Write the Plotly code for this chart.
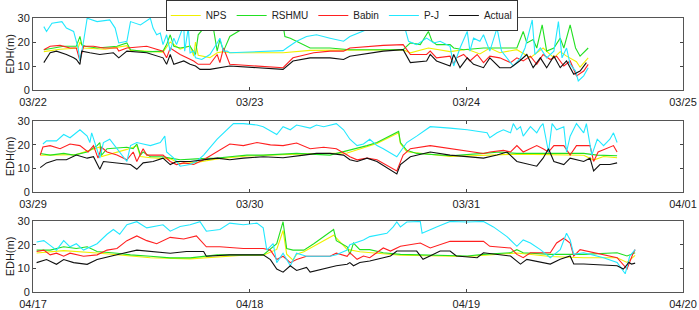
import plotly.graph_objects as go
from plotly.subplots import make_subplots

# ---- tick labels per panel (x in hours from first day 00:00) ----
TICK_HOURS = [0, 24, 48, 72]
P1_TICKS = ["03/22", "03/23", "03/24", "03/25"]
P2_TICKS = ["03/29", "03/30", "03/31", "04/01"]
P3_TICKS = ["04/17", "04/18", "04/19", "04/20"]
Y_TICKS = [0, 10, 20, 30]

SERIES = ["NPS", "RSHMU", "Babin", "P-J", "Actual"]
COLORS = {"NPS": "#f0f000", "RSHMU": "#22e022", "Babin": "#ff2020",
          "P-J": "#22e8ff", "Actual": "#111111"}

# ---- Panel 1 (03/22 - 03/25): (hour, EDH m) ----
P1_NPS = [(1.2,16.0),(3.0,17.0),(5.0,17.5),(5.2,20.0),(5.6,17.5),(8.0,17.0),(10.4,18.5),(10.8,16.5),
          (14.4,15.8),(15.2,20.0),(16.3,17.0),(17.4,18.5),(17.8,14.1),(18.0,20.0),(18.3,14.5),(19.6,13.5),
          (20.4,15.5),(21.1,16.0),(21.8,15.5),(27.7,15.5),(30.7,16.5),(34.4,16.5),(41.0,16.8),(41.8,15.5),
          (43.8,17.5),(46.2,16.0),(48.1,17.0),(49.5,15.0),(50.6,17.5),(51.7,15.5),(53.6,16.8),(55.1,13.5),
          (56.5,17.5),(57.7,13.4),(58.4,16.0),(59.1,14.1),(60.2,11.8),(60.6,9.5),(61.5,13.4)]
P1_RSHMU = [(1.2,16.8),(2.3,17.5),(3.4,18.2),(4.8,18.2),(5.2,22.3),(5.4,18.9),(5.8,18.2),(7.1,17.5),
            (9.3,18.2),(10.4,19.6),(10.8,16.8),(12.6,15.9),(14.4,16.2),(14.8,18.9),(15.2,23.0),(15.6,18.2),
            (16.3,17.5),(17.4,18.2),(18.0,14.8),(18.3,23.0),(19.8,29.9),(20.4,16.2),(20.7,21.0),(21.1,16.2),
            (21.8,22.3),(25.2,29.9),(27.7,27.1),(27.9,22.3),(28.5,21.6),(30.7,17.5),(32.9,17.5),(35.1,16.8),
            (41.0,16.8),(41.8,19.6),(42.9,18.9),(43.8,24.4),(44.2,20.3),(44.7,18.9),(46.2,18.9),(46.6,17.5),
            (47.7,16.8),(49.9,17.5),(51.7,17.5),(53.6,17.5),(54.3,24.4),(54.7,19.6),(55.4,21.0),(55.8,17.5),
            (56.4,27.1),(56.9,16.2),(57.7,17.5),(58.4,21.6),(58.8,17.5),(59.5,27.1),(60.1,17.5),(60.6,14.1),
            (61.5,17.5)]
P1_BABIN = [(1.2,16.8),(1.9,18.2),(3.0,18.6),(4.1,17.5),(4.8,17.5),(5.2,12.1),(5.6,18.2),(6.7,18.2),
            (7.8,17.5),(9.3,17.5),(9.5,16.2),(10.4,17.5),(12.6,18.2),(14.4,16.2),(14.8,13.4),(15.2,17.5),
            (16.3,14.8),(17.0,13.4),(17.8,12.1),(18.3,10.7),(19.6,10.7),(20.4,14.8),(20.7,11.4),(21.1,17.5),
            (21.8,10.7),(27.7,9.3),(28.8,13.4),(31.1,15.5),(32.9,16.2),(34.4,16.2),(35.1,17.5),(38.8,18.6),
            (41.0,18.9),(41.8,14.8),(43.6,14.8),(44.0,16.2),(44.7,13.4),(46.2,14.1),(46.6,10.7),(46.9,13.4),
            (47.7,14.8),(48.4,12.1),(49.2,14.8),(49.9,11.4),(50.6,14.1),(51.7,13.4),(52.9,11.4),(53.6,13.4),
            (54.3,12.1),(55.1,14.1),(55.8,10.7),(56.5,14.8),(57.3,12.7),(58.0,14.1),(58.8,10.0),(59.5,12.1),
            (60.2,5.9),(61.0,7.9),(61.5,10.7)]
P1_PJ = [(1.2,26.4),(1.5,24.4),(2.1,27.8),(3.2,28.5),(3.7,25.8),(4.5,24.4),(5.0,17.5),(5.2,12.1),
         (5.6,20.3),(6.0,29.9),(7.1,28.5),(8.5,29.2),(9.1,25.8),(9.5,19.6),(10.4,20.3),(10.8,28.5),
         (11.9,27.1),(13.0,29.9),(13.3,25.8),(13.7,23.0),(14.1,23.7),(14.4,18.9),(14.8,23.0),(15.2,16.2),
         (15.6,21.6),(15.9,18.9),(16.7,27.1),(16.8,16.2),(17.2,25.8),(17.4,15.5),(17.8,16.2),(18.0,13.4),
         (18.7,12.7),(19.6,14.8),(20.4,19.6),(20.7,21.6),(21.1,16.2),(21.5,16.2),(21.8,15.5),(27.7,16.4),
         (28.1,17.5),(29.2,20.3),(30.3,22.3),(31.4,23.0),(32.9,21.6),(34.4,20.3),(35.1,22.3),(39.6,29.2),
         (41.0,28.5),(41.6,20.3),(42.5,18.9),(43.6,21.6),(44.4,19.6),(45.1,20.3),(46.2,18.2),(46.6,10.0),
         (47.3,17.5),(48.1,24.4),(48.4,16.2),(48.8,21.6),(49.5,20.3),(49.9,23.0),(50.6,16.2),(51.4,25.8),
         (51.9,16.2),(52.5,13.4),(53.2,10.0),(54.0,13.4),(54.5,17.5),(55.3,29.2),(55.6,14.8),(56.2,17.5),
         (56.9,13.4),(57.7,16.2),(58.2,28.5),(58.6,13.4),(59.1,17.5),(59.5,10.7),(60.1,7.9),(60.4,3.8),
         (61.0,5.9),(61.5,9.3)]
P1_ACTUAL = [(1.2,11.4),(1.9,15.5),(2.6,16.2),(3.7,14.8),(4.5,13.4),(4.8,12.7),(5.2,10.7),(5.4,16.2),
             (6.3,15.5),(7.4,14.8),(8.9,15.5),(9.5,13.4),(10.4,16.2),(12.6,15.5),(14.4,13.4),(14.8,10.7),
             (15.2,14.8),(15.6,10.7),(16.7,12.1),(17.4,10.7),(18.0,10.0),(18.5,8.6),(19.6,8.6),(20.7,9.3),
             (21.8,10.0),(27.7,8.6),(28.8,12.1),(30.7,13.4),(32.9,13.4),(34.4,12.7),(35.1,14.1),(38.8,16.2),
             (41.0,16.8),(41.8,11.4),(43.6,12.1),(44.0,14.8),(44.7,12.1),(46.2,10.0),(46.6,14.8),(47.3,9.3),
             (48.1,13.4),(48.8,10.7),(49.9,9.3),(50.6,13.4),(51.7,9.3),(52.9,9.3),(53.9,12.1),(54.7,14.8),
             (55.4,9.3),(56.2,13.4),(56.9,9.3),(57.7,14.1),(58.4,9.3),(59.1,12.1),(59.9,6.6),(60.6,7.9),
             (61.3,11.4)]

# ---- Panel 2 (03/29 - 04/01) ----
P2_NPS = [(0.8,15.5),(4.8,15.8),(7.4,19.0),(7.6,15.0),(10.4,18.0),(11.5,19.5),(11.9,15.0),(13.0,14.5),
          (15.2,14.0),(16.3,12.0),(18.1,12.5),(20.4,14.0),(23.7,15.2),(29.2,16.0),(34.8,16.5),(38.1,20.5),
          (40.5,25.0),(40.7,20.5),(41.4,17.0),(46.2,15.0),(53.6,16.0),(57.3,15.8),(61.0,15.5),(62.1,13.5),
          (63.2,15.0),(64.7,14.5)]
P2_RSHMU = [(0.8,16.3),(1.9,15.6),(3.4,16.3),(4.5,15.6),(6.0,16.9),(7.1,19.6),(7.4,20.9),(7.6,15.6),
            (8.2,18.3),(9.3,18.7),(10.4,18.9),(11.1,18.3),(11.5,20.3),(11.9,15.6),(12.2,16.9),(13.0,14.9),
            (14.4,14.9),(15.2,14.3),(16.3,13.6),(18.1,14.0),(20.4,14.3),(21.8,14.9),(23.7,15.6),(25.5,15.6),
            (29.2,16.3),(32.9,15.6),(35.1,17.6),(37.0,19.6),(38.1,20.9),(40.5,25.6),(40.7,20.9),(41.4,17.6),
            (42.5,16.3),(46.2,15.3),(49.9,16.3),(51.7,16.9),(53.6,16.3),(57.3,16.3),(61.0,16.3),(62.5,15.6),
            (64.7,15.3)]
P2_BABIN = [(0.8,15.6),(1.1,19.0),(1.9,19.6),(3.0,18.3),(4.1,20.3),(5.2,19.6),(6.1,16.9),(6.7,19.6),
            (7.2,14.3),(7.6,18.9),(8.2,16.9),(9.3,15.6),(10.4,13.6),(11.1,16.9),(11.5,12.9),(12.2,18.3),
            (12.6,15.6),(14.4,15.6),(15.2,12.9),(15.9,11.6),(16.7,12.3),(17.8,11.6),(18.9,13.6),(20.4,16.9),
            (21.8,20.3),(23.3,19.6),(24.8,20.9),(26.3,19.9),(27.7,19.6),(29.2,20.7),(30.7,18.3),(32.2,18.9),
            (33.6,18.3),(34.8,15.6),(35.1,14.9),(35.9,13.6),(37.0,14.3),(38.1,13.6),(40.3,8.9),(41.0,15.6),
            (41.8,18.3),(44.0,19.6),(46.2,18.3),(49.9,16.3),(50.6,16.9),(52.1,17.6),(52.9,16.9),(53.6,19.6),
            (54.3,16.9),(55.8,19.6),(56.5,18.3),(57.1,16.9),(57.7,19.6),(58.8,19.6),(59.5,15.6),(60.2,19.6),
            (61.7,19.6),(62.1,12.9),(62.6,16.9),(63.6,18.3),(64.3,19.6),(64.7,16.9)]
P2_PJ = [(1.1,20.3),(1.5,21.6),(2.6,21.6),(3.4,24.3),(4.1,22.9),(5.2,26.3),(6.0,23.6),(6.3,20.9),
         (6.5,25.0),(7.1,18.3),(7.4,14.3),(7.8,20.9),(8.5,22.3),(9.3,18.3),(10.4,12.9),(10.8,19.6),
         (11.5,20.9),(12.2,20.3),(13.0,19.6),(14.1,20.9),(14.6,23.6),(14.8,16.9),(15.6,14.3),(16.3,10.9),
         (17.4,11.6),(18.1,12.9),(18.9,15.6),(20.4,22.3),(21.1,25.0),(21.8,27.6),(22.2,28.9),(23.3,28.9),
         (24.8,28.3),(25.5,27.6),(27.0,24.3),(27.7,27.6),(28.5,26.3),(29.2,28.3),(30.7,27.0),(31.4,28.3),
         (32.2,27.6),(33.6,28.9),(34.4,26.3),(35.1,22.3),(35.9,19.6),(36.6,20.3),(37.3,22.3),(38.1,19.6),
         (38.8,18.3),(40.3,14.9),(40.7,16.9),(41.4,20.9),(42.5,23.6),(44.0,27.6),(46.2,27.0),(48.1,26.3),
         (50.3,25.0),(50.6,22.9),(51.4,25.0),(52.1,26.3),(52.9,25.0),(53.2,28.9),(53.6,26.3),(54.0,27.6),
         (54.3,23.6),(55.1,27.6),(55.8,25.0),(56.2,27.6),(56.5,28.9),(57.1,16.9),(57.5,28.9),(58.0,26.3),
         (58.8,27.6),(59.1,16.9),(59.5,23.6),(60.2,28.9),(61.0,25.0),(61.3,28.9),(61.9,15.6),(62.5,22.3),
         (63.2,19.6),(63.9,22.3),(64.3,25.0),(64.7,20.9)]
P2_ACTUAL = [(0.8,10.3),(1.5,12.3),(2.6,13.6),(3.7,13.6),(4.8,15.6),(6.0,14.3),(6.7,14.9),(7.4,9.6),
             (7.8,12.9),(9.3,12.3),(10.8,11.6),(11.5,9.6),(12.2,12.3),(13.3,12.9),(14.4,14.3),(15.2,11.6),
             (15.9,12.9),(17.4,12.9),(18.9,13.6),(20.4,14.3),(21.8,13.6),(23.3,14.3),(25.5,14.9),(27.7,14.5),
             (30.0,15.6),(31.4,16.3),(32.9,16.3),(34.4,15.6),(35.1,13.6),(35.9,12.9),(37.0,14.3),(38.1,12.9),
             (40.3,7.6),(40.7,11.6),(41.8,14.9),(44.0,16.9),(46.2,15.6),(49.9,14.3),(51.4,15.6),(52.5,16.9),
             (53.6,12.9),(54.3,12.3),(55.1,11.6),(55.8,10.9),(56.5,14.3),(57.1,18.3),(57.7,12.9),(58.8,11.6),
             (59.5,14.3),(61.0,12.9),(61.7,14.3),(62.1,8.9),(62.8,11.6),(63.9,11.6),(64.7,12.3)]

# ---- Panel 3 (04/17 - 04/20) ----
P3_NPS = [(0.4,16.5),(3.4,17.5),(7.1,16.5),(13.0,14.5),(17.4,14.0),(23.3,15.5),(25.5,15.5),(27.0,18.0),
          (27.7,26.0),(28.1,16.0),(28.8,13.5),(29.2,16.0),(30.0,17.0),(33.3,24.0),(34.8,18.0),(36.2,17.0),
          (40.7,15.5),(48.1,15.0),(53.6,16.5),(57.3,15.0),(61.0,14.5),(64.7,14.5),(65.8,12.5),(66.7,15.5)]
P3_RSHMU = [(0.4,17.7),(1.9,17.7),(3.4,19.1),(4.8,18.4),(6.0,19.1),(7.1,17.1),(9.3,16.4),(10.8,15.7),
            (13.0,15.1),(15.2,14.4),(17.4,14.4),(18.9,15.1),(20.4,15.7),(23.3,15.7),(25.5,15.7),(27.0,20.4),
            (27.7,29.7),(28.1,18.4),(28.8,17.7),(30.0,17.7),(31.1,20.4),(33.3,26.4),(33.6,21.7),(34.8,19.1),
            (35.1,15.9),(35.5,20.7),(36.2,17.9),(37.3,17.9),(38.8,16.6),(40.7,15.9),(44.4,15.5),(48.1,15.2),
            (49.9,15.9),(52.9,16.6),(53.6,17.9),(54.3,16.6),(57.3,15.9),(59.5,15.9),(61.0,15.9),(64.7,16.6),
            (65.8,15.2),(66.7,16.6)]
P3_BABIN = [(0.4,17.1),(1.2,17.7),(1.9,15.7),(2.6,16.4),(3.4,15.1),(4.1,16.4),(5.6,15.1),(7.1,15.7),
            (8.2,17.7),(9.3,18.4),(10.4,21.7),(11.5,23.7),(12.6,21.7),(13.7,20.4),(15.2,23.1),(16.7,22.4),
            (18.1,23.7),(19.2,19.1),(20.7,19.1),(23.3,18.4),(25.5,18.4),(26.3,17.7),(27.0,13.7),(27.7,15.1),
            (28.5,12.4),(29.2,13.7),(30.3,15.1),(32.9,15.1),(33.6,16.4),(34.8,15.1),(35.1,16.6),(35.9,13.8),
            (36.6,15.2),(37.3,14.5),(38.8,18.6),(39.6,17.3),(40.7,19.3),(42.9,20.7),(44.0,18.6),(46.2,21.4),
            (49.9,21.4),(50.6,19.3),(52.9,18.6),(53.6,15.9),(54.3,14.5),(55.1,16.6),(57.3,16.6),(58.0,20.7),
            (58.8,22.7),(59.5,20.7),(59.9,15.2),(60.6,17.9),(64.7,14.5),(65.8,9.7),(66.5,16.6),(66.7,17.9)]
P3_PJ = [(0.4,21.1),(1.2,21.7),(1.9,19.7),(2.6,17.7),(3.4,21.7),(4.1,19.1),(4.8,20.4),(5.6,17.7),
         (7.1,20.4),(8.2,24.4),(8.9,26.4),(9.6,24.4),(10.4,28.4),(11.5,29.7),(12.6,27.1),(14.4,28.4),
         (15.2,25.7),(16.3,27.7),(17.4,28.4),(18.5,29.7),(19.2,25.7),(20.7,26.4),(21.8,29.1),(23.3,28.4),
         (24.8,29.1),(25.5,27.1),(25.9,17.7),(26.6,20.4),(27.0,12.4),(27.7,16.4),(28.5,11.1),(29.2,16.4),
         (30.3,15.1),(32.9,15.1),(33.6,15.7),(34.8,17.7),(35.1,20.0),(36.6,22.0),(37.3,23.4),(39.2,24.8),
         (39.9,27.5),(40.3,29.6),(40.7,27.5),(41.4,29.6),(42.9,29.8),(43.1,24.8),(44.7,27.5),(46.2,29.8),
         (48.1,29.6),(49.9,29.8),(51.0,27.5),(52.5,23.4),(53.6,19.3),(54.3,22.0),(55.1,20.7),(56.2,17.9),
         (57.3,14.5),(58.4,17.9),(59.1,24.8),(59.5,22.0),(59.9,15.9),(61.0,16.6),(63.2,14.5),(64.7,12.5),
         (65.6,7.7),(66.1,15.2),(66.7,17.9)]
P3_ACTUAL = [(0.4,12.4),(1.5,13.7),(2.6,11.7),(3.4,13.7),(4.5,12.4),(6.0,11.7),(7.1,13.7),(8.5,15.1),
             (10.0,16.4),(11.5,17.7),(13.0,17.1),(15.2,16.4),(17.0,17.1),(18.9,17.1),(19.2,15.1),(21.8,15.7),
             (25.5,15.7),(26.3,13.7),(27.0,9.7),(27.7,8.4),(28.5,11.1),(29.2,9.1),(30.3,10.4),(30.7,8.4),
             (33.6,11.1),(34.8,11.7),(35.1,12.4),(35.5,11.1),(36.2,12.5),(37.3,13.1),(39.6,15.2),(40.3,17.3),
             (42.5,17.3),(43.2,13.8),(45.1,17.3),(46.2,17.3),(46.9,15.2),(49.2,14.5),(49.9,16.6),(52.9,15.2),
             (54.0,11.8),(54.7,13.8),(57.3,11.8),(58.4,13.8),(59.5,15.2),(59.9,11.8),(61.0,11.8),(64.7,11.1),
             (65.4,9.7),(66.0,12.5),(66.3,11.8),(66.7,12.2)]

PANELS = [
    (P1_TICKS, {"NPS": P1_NPS, "RSHMU": P1_RSHMU, "Babin": P1_BABIN, "P-J": P1_PJ, "Actual": P1_ACTUAL}),
    (P2_TICKS, {"NPS": P2_NPS, "RSHMU": P2_RSHMU, "Babin": P2_BABIN, "P-J": P2_PJ, "Actual": P2_ACTUAL}),
    (P3_TICKS, {"NPS": P3_NPS, "RSHMU": P3_RSHMU, "Babin": P3_BABIN, "P-J": P3_PJ, "Actual": P3_ACTUAL}),
]

W, H = 699, 310
ML, MR, MT, MB = 33, 16, 18, 18
ph = H - MT - MB
# panel frame tops/bottoms in pixels
FRAMES = [(18, 90), (121, 192), (221, 292)]

fig = make_subplots(rows=3, cols=1)
FONT = "Liberation Sans, Arial, sans-serif"

for i, (ticks, data) in enumerate(PANELS):
    r = i + 1
    for name in SERIES:
        pts = data[name]
        fig.add_trace(go.Scatter(
            x=[p[0] for p in pts], y=[p[1] for p in pts], mode="lines",
            name=name, showlegend=(i == 0), legendgroup=name,
            line=dict(color=COLORS[name], width=1.1)), row=r, col=1)
    top, bot = FRAMES[i]
    dom = [(H - MB - bot) / ph, (H - MB - top) / ph]
    ax = dict(range=[0, 72], tickvals=TICK_HOURS, ticktext=ticks, ticks="inside",
              ticklen=3, tickcolor="#444", showline=True, linecolor="#555", linewidth=1,
              mirror="ticks", showgrid=False, zeroline=False, automargin=False,
              ticklabelstandoff=2,
              tickfont=dict(family=FONT, size=11, color="#222"))
    ay = dict(range=[0, 30], tickvals=Y_TICKS, ticks="inside", ticklen=3, tickcolor="#444",
              showline=True, linecolor="#555", linewidth=1, mirror="ticks", showgrid=False,
              zeroline=False, domain=dom, automargin=False,
              tickfont=dict(family=FONT, size=11, color="#222"),
              title=dict(text="EDH(m)", font=dict(family=FONT, size=11, color="#222"), standoff=0))
    fig.update_xaxes(ax, row=r, col=1)
    fig.update_yaxes(ay, row=r, col=1)

fig.update_layout(
    width=W, height=H, margin=dict(l=ML, r=MR, t=MT, b=MB, autoexpand=False),
    plot_bgcolor="white", paper_bgcolor="white",
    font=dict(family=FONT, size=10, color="#222"),
    legend=dict(orientation="h", x=0.475, xanchor="center", y=1 + MT / ph, yanchor="top",
                bordercolor="#333", borderwidth=1, bgcolor="white",
                font=dict(family=FONT, size=10, color="#222"),
                itemwidth=30, tracegroupgap=0, valign="middle"),
)
fig.write_html("out.html", config={"displayModeBar": False},
               post_script="document.body.style.margin='0px';document.body.style.overflow='hidden';")
